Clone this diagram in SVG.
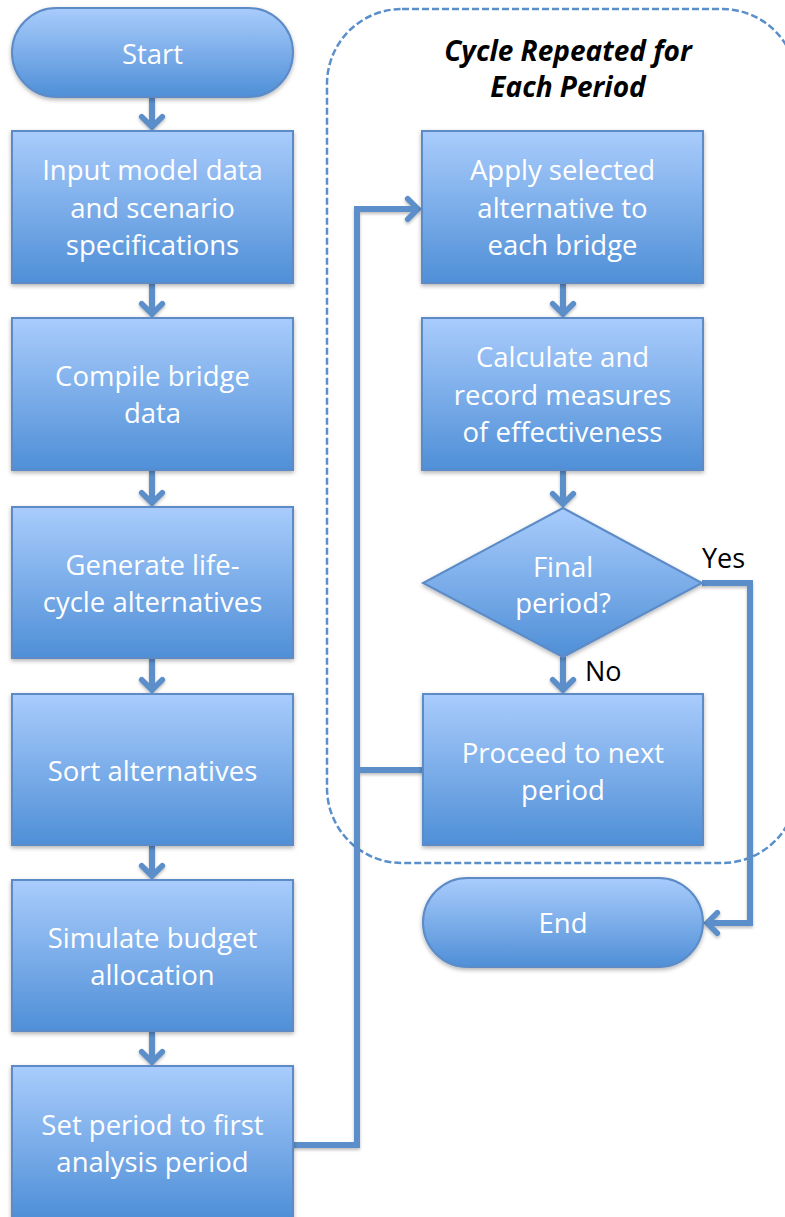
<svg xmlns="http://www.w3.org/2000/svg" width="785" height="1217" viewBox="0 0 785 1217">
  <defs>
    <linearGradient id="fill" x1="0" y1="0" x2="0" y2="1">
      <stop offset="0" stop-color="#a9ccfc"/>
      <stop offset="1" stop-color="#4f8fd7"/>
    </linearGradient>
    <filter id="shadow" x="-10%" y="-10%" width="120%" height="130%">
      <feDropShadow dx="0" dy="2" stdDeviation="2" flood-color="#000" flood-opacity="0.3"/>
    </filter>
    <filter id="lshadow" filterUnits="userSpaceOnUse" x="0" y="0" width="785" height="1217">
      <feDropShadow dx="0" dy="2" stdDeviation="1.5" flood-color="#000" flood-opacity="0.25"/>
    </filter>
    <marker id="arrow" markerUnits="userSpaceOnUse" markerWidth="30" markerHeight="30" viewBox="-14 -16 30 32" refX="11" refY="0" orient="auto" overflow="visible">
      <path d="M0,-11 L11,0 L0,11" fill="none" stroke="#5b8fca" stroke-width="6" stroke-linecap="round" stroke-linejoin="miter"/>
    </marker>
    <style>
      .node { fill: url(#fill); stroke: #5b8bc7; stroke-width: 2; filter: url(#shadow); }
      .lbl { font-family: "Open Sans", "Liberation Sans", sans-serif; font-size: 27.5px; fill: #ffffff; text-anchor: middle; }
      .conn { fill: none; stroke: #5b8fca; stroke-width: 6; }
      .arr { marker-end: url(#arrow); }
      .note { font-family: "Open Sans", "Liberation Sans", sans-serif; font-size: 27px; fill: #000000; }
      .title { font-family: "Open Sans", "Liberation Sans", sans-serif; font-size: 28px; font-weight: bold; font-style: italic; fill: #000000; text-anchor: middle; }
    </style>
  </defs>
  <rect width="785" height="1217" fill="#ffffff"/>

  <g id="cycle-frame">
    <rect x="327" y="9" width="470" height="854" rx="75" ry="75" fill="none" stroke="#5b8fca" stroke-width="2.5" stroke-dasharray="7 3"/>
    <text class="title" x="568" y="61">Cycle Repeated for</text>
    <text class="title" x="568" y="97">Each Period</text>
  </g>

  <g id="connectors" filter="url(#lshadow)">
    <path class="conn arr" d="M152,97 L152,127"/>
    <path class="conn arr" d="M152,283 L152,314"/>
    <path class="conn arr" d="M152,470 L152,503"/>
    <path class="conn arr" d="M152,658 L152,690"/>
    <path class="conn arr" d="M152,845 L152,876"/>
    <path class="conn arr" d="M152,1031 L152,1062"/>
    <path class="conn arr" d="M293,1145 L357,1145 L357,209 L418,209"/>
    <path class="conn" d="M423,770 L357,770"/>
    <path class="conn arr" d="M563,283 L563,314"/>
    <path class="conn arr" d="M563,470 L563,504"/>
    <path class="conn arr" d="M563,657 L563,690"/>
    <path class="conn arr" d="M702,583 L750,583 L750,923 L707,923"/>
  </g>
  <text class="note" x="702" y="568">Yes</text>
  <text class="note" x="585" y="681">No</text>

  <g id="start">
    <rect class="node" x="12" y="8" width="281" height="89" rx="44.5" ry="44.5"/>
    <text class="lbl" x="152.5" y="64">Start</text>
  </g>
  <g id="input">
    <rect class="node" x="12" y="131" width="281" height="152"/>
    <text class="lbl" x="152.5" y="180">Input model data</text>
    <text class="lbl" x="152.5" y="218">and scenario</text>
    <text class="lbl" x="152.5" y="255">specifications</text>
  </g>
  <g id="compile">
    <rect class="node" x="12" y="318" width="281" height="152"/>
    <text class="lbl" x="152.5" y="386">Compile bridge</text>
    <text class="lbl" x="152.5" y="423">data</text>
  </g>
  <g id="generate">
    <rect class="node" x="12" y="507" width="281" height="151"/>
    <text class="lbl" x="152.5" y="575">Generate life-</text>
    <text class="lbl" x="152.5" y="612">cycle alternatives</text>
  </g>
  <g id="sort">
    <rect class="node" x="12" y="694" width="281" height="151"/>
    <text class="lbl" x="152.5" y="781">Sort alternatives</text>
  </g>
  <g id="simulate">
    <rect class="node" x="12" y="880" width="281" height="151"/>
    <text class="lbl" x="152.5" y="948">Simulate budget</text>
    <text class="lbl" x="152.5" y="985">allocation</text>
  </g>
  <g id="setperiod">
    <rect class="node" x="12" y="1066" width="281" height="152"/>
    <text class="lbl" x="152.5" y="1135">Set period to first</text>
    <text class="lbl" x="152.5" y="1172">analysis period</text>
  </g>

  <g id="apply">
    <rect class="node" x="422" y="131" width="281" height="152"/>
    <text class="lbl" x="562.5" y="180">Apply selected</text>
    <text class="lbl" x="562.5" y="218">alternative to</text>
    <text class="lbl" x="562.5" y="255">each bridge</text>
  </g>
  <g id="calculate">
    <rect class="node" x="422" y="318" width="281" height="152"/>
    <text class="lbl" x="562.5" y="367">Calculate and</text>
    <text class="lbl" x="562.5" y="405">record measures</text>
    <text class="lbl" x="562.5" y="442">of effectiveness</text>
  </g>
  <g id="final">
    <polygon class="node" points="563,508 702,583 563,657 423,583"/>
    <text class="lbl" x="563" y="577">Final</text>
    <text class="lbl" x="563" y="613">period?</text>
  </g>
  <g id="proceed">
    <rect class="node" x="423" y="694" width="280" height="151"/>
    <text class="lbl" x="563" y="763">Proceed to next</text>
    <text class="lbl" x="563" y="800">period</text>
  </g>
  <g id="end">
    <rect class="node" x="423" y="878" width="280" height="89" rx="44.5" ry="44.5"/>
    <text class="lbl" x="563" y="933">End</text>
  </g>
</svg>
